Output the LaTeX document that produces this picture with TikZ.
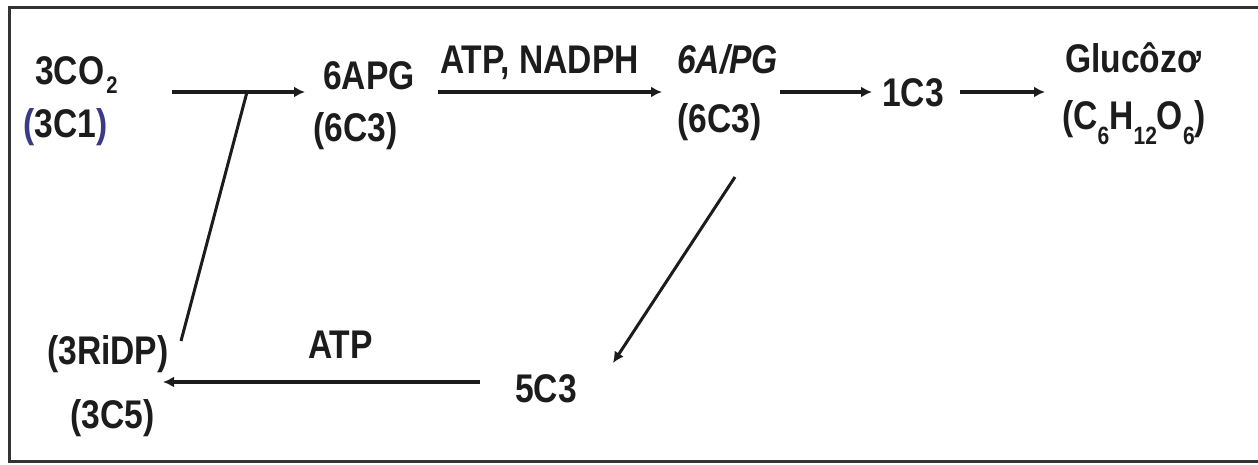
\documentclass[tikz,border=0pt]{standalone}
\usepackage{fontspec}
\setmainfont{Liberation Sans}[FakeStretch=0.84]
\usetikzlibrary{arrows.meta}
\definecolor{ink}{HTML}{1C1C1C}
\definecolor{paren}{HTML}{3A3A86}
\definecolor{framec}{HTML}{333333}
% lowered index for chemical formulas: size, drop, text
\newcommand{\lowidx}[3]{\raisebox{-#2pt}{\fontsize{#1}{#1}\selectfont\bfseries #3}}
\newcommand{\chemidx}[1]{\lowidx{25}{15}{#1}}
\begin{document}
\begin{tikzpicture}[x=1pt,y=-1pt,
  txt/.style={font=\fontsize{40}{46}\selectfont\bfseries, text=ink, inner sep=0pt, anchor=base west},
  arr/.style={draw=ink, line width=3.6pt, -{Latex[length=11pt,width=11pt]}},
  ln/.style={draw=ink, line width=3pt}]
\useasboundingbox (0,0) rectangle (1258,465);
% open frame (right side runs off the page)
\draw[framec, line width=3pt] (1262,8) -- (9,8) -- (9,461) -- (1262,461);

% species and labels
\node[txt] (co2)   at (35,85)   {3CO\hspace{2pt}\lowidx{24}{9}{2}};
\node[txt] (c1)    at (23,138)  {{\color{paren}(}3C1{\color{paren})}};
\node[txt] (apg)   at (323,90)  {6APG};
\node[txt] (apgc)  at (313,142) {(6C3)};
\node[txt] (atpn)  at (440,74)  {ATP, NADPH};
\node[txt, font=\fontsize{40}{46}\selectfont\bfseries\itshape] (alpg) at (677,74) {6A/PG};
\node[txt] (alpgc) at (677,133) {(6C3)};
\node[txt] (c13)   at (882,107) {1C3};
\node[txt] (glu)   at (1065,73) {Glucôzơ};
\node[txt] (glc)   at (1062,130){(C\chemidx{6}H\chemidx{12}O\chemidx{6})};
\node[txt] (ridp)  at (47,364)  {(3RiDP)};
\node[txt] (c35)   at (70,428)  {(3C5)};
\node[txt] (atp)   at (308,358) {ATP};
\node[txt] (c53)   at (515,402) {5C3};

% connector end points
\coordinate (a1s) at (172,92);
\coordinate (a1e) at (305,92);
\coordinate (j)   at (247,92);
\coordinate (rib) at (181,341);
\coordinate (a2s) at (438,92);
\coordinate (a2e) at (662,92);
\coordinate (a3s) at (780,92);
\coordinate (a3e) at (872,92);
\coordinate (a4s) at (960,92);
\coordinate (a4e) at (1045,92);
\coordinate (dgs) at (735,177);
\coordinate (dge) at (613,363);
\coordinate (bts) at (480,382);
\coordinate (bte) at (163,382);

% reactions
\draw[arr] (a1s) -- (a1e);
\draw[ln]  (j) -- (rib);
\draw[arr] (a2s) -- (a2e);
\draw[arr] (a3s) -- (a3e);
\draw[arr] (a4s) -- (a4e);
\draw[arr, line width=3pt] (dgs) -- (dge);
\draw[arr] (bts) -- (bte);
\end{tikzpicture}
\end{document}
